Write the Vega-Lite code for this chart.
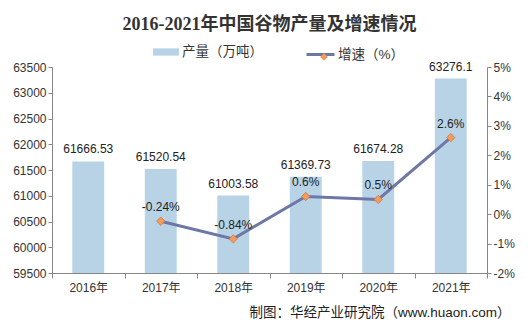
{
  "$schema": "https://vega.github.io/schema/vega-lite/v6.json",
  "width": 435,
  "height": 206,
  "autosize": {"type": "none"},
  "padding": {"left": 52, "top": 67, "right": 45, "bottom": 61},
  "background": "white",
  "title": {
    "text": "2016-2021年中国谷物产量及增速情况",
    "font": "Liberation Serif, Noto Sans CJK SC",
    "fontSize": 18,
    "fontWeight": "bold",
    "color": "#333333",
    "anchor": "middle",
    "offset": 5
  },
  "data": {
    "values": [
      {"year": "2016年", "output": 61666.53, "growth": null, "growthLabel": ""},
      {"year": "2017年", "output": 61520.54, "growth": -0.24, "growthLabel": "-0.24%"},
      {"year": "2018年", "output": 61003.58, "growth": -0.84, "growthLabel": "-0.84%"},
      {"year": "2019年", "output": 61369.73, "growth": 0.6, "growthLabel": "0.6%"},
      {"year": "2020年", "output": 61674.28, "growth": 0.5, "growthLabel": "0.5%"},
      {"year": "2021年", "output": 63276.1, "growth": 2.6, "growthLabel": "2.6%"}
    ]
  },
  "encoding": {
    "x": {
      "field": "year",
      "type": "nominal",
      "sort": null,
      "scale": {"paddingInner": 0, "paddingOuter": 0},
      "axis": {
        "title": "制图：华经产业研究院（www.huaon.com）",
        "titleFont": "Liberation Sans, Noto Sans CJK SC",
        "titleFontSize": 13.5,
        "titleFontWeight": "normal",
        "titleColor": "#222222",
        "titleAnchor": "end",
        "titleAlign": "right",
        "titleBaseline": "middle",
        "titleX": 458,
        "titleY": 39,
        "labelAngle": 0,
        "labelFont": "Liberation Sans, Noto Sans CJK SC",
        "labelFontSize": 12,
        "labelColor": "#333333",
        "labelPadding": 4,
        "tickBand": "extent",
        "tickSize": 5,
        "tickColor": "#868686",
        "domainColor": "#868686",
        "grid": false
      }
    }
  },
  "layer": [
    {
      "encoding": {
        "y": {
          "field": "output",
          "type": "quantitative",
          "scale": {"domain": [59500, 63500], "zero": false, "nice": false},
          "axis": {
            "title": null,
            "orient": "left",
            "values": [59500, 60000, 60500, 61000, 61500, 62000, 62500, 63000, 63500],
            "format": "d",
            "labelOverlap": false,
            "labelFont": "Liberation Sans",
            "labelFontSize": 12,
            "labelColor": "#333333",
            "tickSize": 4,
            "tickColor": "#868686",
            "domainColor": "#868686",
            "grid": false
          }
        }
      },
      "layer": [
        {
          "mark": {"type": "bar", "width": {"band": 0.44}, "clip": true},
          "encoding": {
            "fill": {
              "datum": "产量（万吨）",
              "scale": {"range": ["#b8d3e6"]},
              "legend": {
                "title": null,
                "orient": "none",
                "legendX": 101,
                "legendY": -28,
                "padding": 0,
                "symbolType": "M-1,-0.28L1,-0.28L1,0.28L-1,0.28Z",
                "symbolSize": 676,
                "symbolStrokeWidth": 0,
                "labelFont": "Liberation Sans, Noto Sans CJK SC",
                "labelFontSize": 13.5,
                "labelColor": "#333333",
                "labelOffset": 3
              }
            }
          }
        },
        {
          "mark": {
            "type": "text",
            "baseline": "bottom",
            "dy": -5,
            "font": "Liberation Sans",
            "fontSize": 12,
            "color": "#222222"
          },
          "encoding": {
            "text": {"field": "output", "type": "quantitative", "format": "~f"}
          }
        }
      ]
    },
    {
      "transform": [{"filter": "datum.growth != null"}],
      "encoding": {
        "y": {
          "field": "growth",
          "type": "quantitative",
          "scale": {"domain": [-2, 5], "nice": false},
          "axis": {
            "title": null,
            "orient": "right",
            "values": [-2, -1, 0, 1, 2, 3, 4, 5],
            "labelExpr": "datum.value + '%'",
            "labelOverlap": false,
            "labelFont": "Liberation Sans",
            "labelFontSize": 12,
            "labelColor": "#333333",
            "tickSize": 4,
            "tickColor": "#868686",
            "domainColor": "#868686",
            "grid": false
          }
        }
      },
      "layer": [
        {
          "mark": {"type": "line", "strokeWidth": 3},
          "encoding": {
            "stroke": {
              "datum": "增速（%）",
              "scale": {"range": ["#6e77a6"]},
              "legend": {
                "title": null,
                "orient": "none",
                "legendX": 253,
                "legendY": -28,
                "padding": 0,
                "symbolType": "M-1,0L1,0",
                "symbolSize": 784,
                "symbolStrokeWidth": 3,
                "labelFont": "Liberation Sans, Noto Sans CJK SC",
                "labelFontSize": 13.5,
                "labelColor": "#333333",
                "labelOffset": 2
              }
            }
          }
        },
        {
          "mark": {"type": "point", "filled": true, "size": 70, "fill": "#f29b5c", "stroke": "#c97a45", "strokeWidth": 0.8, "opacity": 1},
          "encoding": {
            "shape": {
              "datum": "增速",
              "scale": {"range": ["diamond"]},
              "legend": {
                "title": null,
                "orient": "none",
                "legendX": 267,
                "legendY": -15,
                "padding": 0,
                "symbolSize": 60,
                "symbolFillColor": "#f29b5c",
                "symbolStrokeColor": "#c97a45",
                "symbolStrokeWidth": 0.8,
                "labelExpr": "''",
                "labelOpacity": 0
              }
            }
          }
        },
        {
          "mark": {
            "type": "text",
            "baseline": "bottom",
            "dy": -7,
            "font": "Liberation Sans",
            "fontSize": 12,
            "color": "#222222"
          },
          "encoding": {
            "text": {"field": "growthLabel", "type": "nominal"}
          }
        }
      ]
    }
  ],
  "resolve": {"scale": {"y": "independent"}},
  "config": {
    "view": {"stroke": null},
    "font": "Liberation Sans, Noto Sans CJK SC"
  }
}
